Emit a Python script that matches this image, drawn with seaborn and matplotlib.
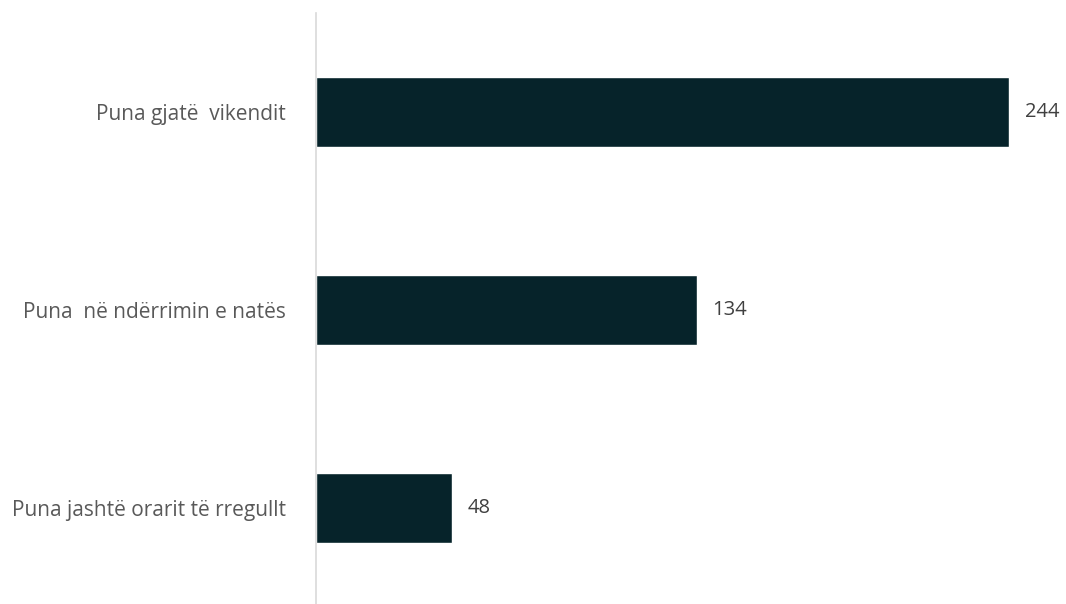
import pandas as pd
import seaborn as sns
import matplotlib.pyplot as plt

sns.set_style('white')
plt.rcParams['font.family'] = ['Open Sans', 'DejaVu Sans']

categories = ['Puna gjatë  vikendit', 'Puna  në ndërrimin e natës', 'Puna jashtë orarit të rregullt']
values = [244, 134, 48]

df = pd.DataFrame({'cat': categories, 'val': values})

fig = plt.figure(figsize=(10.66, 6.04), dpi=100)
ax = fig.add_axes([316 / 1066, -3 / 604, 700 / 1066, 594 / 604])

sns.barplot(data=df, y='cat', x='val', color='#06232A', width=0.355,
            saturation=1, ax=ax)

ax.set_xlim(0, 700 / 2.84)
ax.set_ylim(2.5, -0.5)
ax.set_xlabel('')
ax.set_ylabel('')
ax.set_xticks([])
for s in ['top', 'right', 'bottom']:
    ax.spines[s].set_visible(False)
ax.spines['left'].set_color('#d9d9d9')
ax.spines['left'].set_linewidth(1.2)
ax.tick_params(axis='y', length=0, pad=21.5, labelsize=15, labelcolor='#595959')

for i, v in enumerate(values):
    ax.text(v + 5.5, i, str(v), va='center', ha='left', fontsize=14.5, color='#404040')

fig.savefig('out.png', dpi=100)
